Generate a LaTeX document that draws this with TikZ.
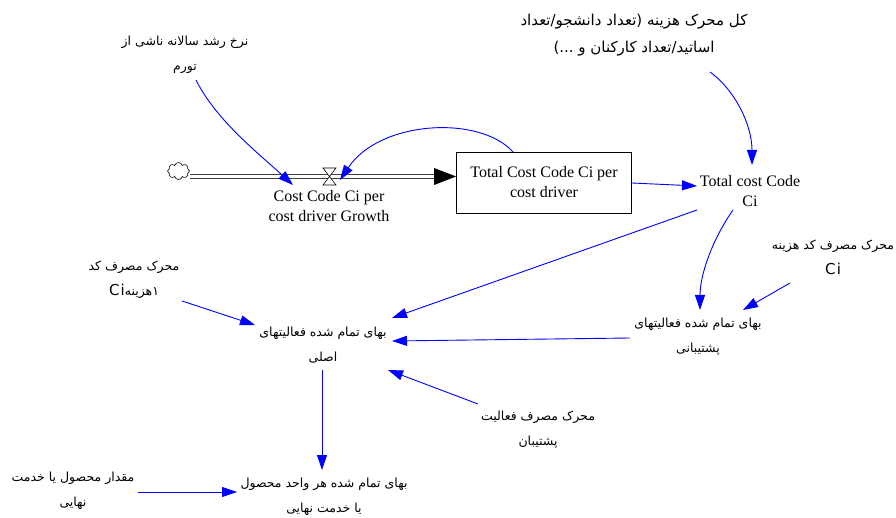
\documentclass[tikz,border=0pt]{standalone}
\usepackage{fontspec}
\setmainfont{Liberation Serif}
\newfontfamily\fa[Script=Arabic]{DejaVu Sans}
\newfontfamily\faL{DejaVu Sans}
\TeXXeTstate=1
\usetikzlibrary{arrows.meta,shapes.symbols,calc}
\newcommand\rtl[1]{\beginR #1\endR}
\newcommand\lat[1]{\hbox{\faL #1}}
\newcommand\bigCi{\hbox{\faL\fontsize{15}{18}\selectfont C\kern1.2pt i}}
\begin{document}
\begin{tikzpicture}[x=1pt,y=-1pt,
  lat/.style={font=\fontsize{16}{20}\selectfont, align=center, inner sep=0pt},
  fat/.style={font=\fa\fontsize{12.5}{25}\selectfont, align=center, inner sep=0pt},
  fatbig/.style={font=\fa\fontsize{15}{27}\selectfont, align=center, inner sep=0pt},
  link/.style={draw=blue, line width=0.9pt, -{Triangle[length=15pt,width=10pt]}},
  pipe/.style={draw=black!75, double=white, line width=1.2pt, double distance=2.6pt},
  stock/.style={draw, line width=0.8pt, minimum width=175pt, minimum height=61pt, inner sep=0pt, align=center, font=\fontsize{16}{20}\selectfont},
  valvest/.style={draw, line width=0.6pt, fill=white},
  cloudst/.style={cloud, draw, line width=0.6pt, cloud puffs=8, minimum width=22pt, minimum height=17pt, inner sep=0pt, aspect=1.3}
]
\useasboundingbox (0,0) rectangle (896,518);

% nodes
\node[cloudst] (cloud) at (178.5,171) {};
\coordinate (valve) at (329.5,176.5);
\node[stock] (box) at (544,182.5) {Total Cost Code Ci per\\cost driver};
\node[lat] (flow) at (329,206) {Cost Code Ci per\\cost driver Growth};
\node[lat] (tc) at (750,191) {Total cost Code\\Ci};

\node[fat] (tl) at (185,55) {\rtl{نرخ رشد سالانه ناشی از}\\\rtl{تورم}};
\node[fatbig] (tr) at (634,35) {\hbox{تعداد}\lat{/}\hbox{دانشجو} \hbox{تعداد}\lat{)} \hbox{هزینه} \hbox{محرک} \hbox{کل}\\\lat{(...} \hbox{و} \hbox{کارکنان} \hbox{تعداد}\lat{/}\hbox{اساتید}};
\node[fat] (ciDrv) at (833,257) {\rtl{محرک مصرف کد هزینه}\\\bigCi};
\node[fat] (sup) at (698,337) {\rtl{بهای تمام شده فعالیتهای}\\\rtl{پشتیبانی}};
\node[fat] (lDrv) at (134,280) {\rtl{محرک مصرف کد}\\\bigCi\hbox{هزینه}\hbox{۱}};
\node[fat] (prim) at (323,345) {\rtl{بهای تمام شده فعالیتهای}\\\rtl{اصلی}};
\node[fat] (bDrv) at (538,430) {\rtl{محرک مصرف فعالیت}\\\rtl{پشتیبان}};
\node[fat] (qty) at (73,491) {\rtl{مقدار محصول یا خدمت}\\\rtl{نهایی}};
\node[fat] (fin) at (324,497) {\rtl{بهای تمام شده هر واحد محصول}\\\rtl{یا خدمت نهایی}};

% flow pipe
\coordinate (pipetip) at (box.west |- valve);
\draw[pipe] (cloud.east |- valve) -- ($(pipetip)+(-21,0)$);
\fill (pipetip) -- ($(pipetip)+(-22,-8.5)$) -- ($(pipetip)+(-22,8.5)$) -- cycle;
\draw[valvest] ($(valve)+(-6.5,-8.5)$) -- ($(valve)+(6.5,-8.5)$) -- ($(valve)+(-6.5,8.5)$) -- ($(valve)+(6.5,8.5)$) -- cycle;

% links
\draw[link] ($(tl)+(11,25)$) .. controls ($(tl)+(31,65)$) and ($(flow)+(-71,-53)$) .. ($(flow)+(-36,-21)$);
\draw[link] ($(box)+(-31,-30.5)$) .. controls ($(box)+(-64,-67.5)$) and ($(valve)+(50.5,-56.5)$) .. ($(valve)+(10.5,3.5)$);
\draw[link] ($(box)+(88,0.5)$) -- ($(tc)+(-53,-5)$);
\draw[link] ($(tr)+(76,37)$) .. controls ($(tr)+(101,55)$) and ($(tc)+(2,-66)$) .. ($(tc)+(2,-26)$);
\draw[link] ($(tc)+(-53,19)$) -- ($(prim)+(69,-27)$);
\draw[link] ($(tc)+(-17,19)$) .. controls ($(tc)+(-38,49)$) and ($(sup)+(2,-62)$) .. ($(sup)+(2,-27)$);
\draw[link] ($(ciDrv)+(-43,26)$) -- ($(sup)+(45,-27)$);
\draw[link] ($(sup)+(-68,1)$) -- ($(prim)+(69,-4)$);
\draw[link] ($(lDrv)+(48,21)$) -- ($(prim)+(-68,-20)$);
\draw[link] ($(bDrv)+(-60,-26)$) -- ($(prim)+(65,25)$);
\draw[link] ($(prim)+(-1,25)$) -- ($(fin)+(-2,-27)$);
\draw[link] ($(qty)+(65,1)$) -- ($(fin)+(-87,-5)$);
\end{tikzpicture}
\end{document}
